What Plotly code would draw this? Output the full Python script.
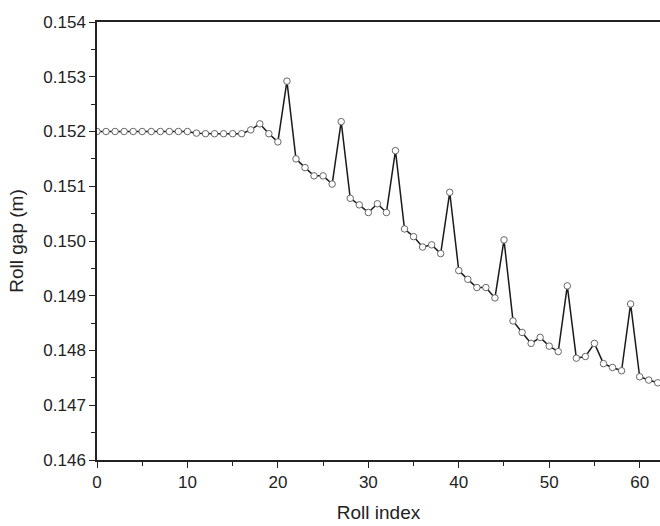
import plotly.graph_objects as go

roll_index = list(range(63))
roll_gap = [
    0.15200, 0.15200, 0.15200, 0.15200, 0.15200, 0.15200, 0.15200, 0.15200, 0.15200, 0.15200,
    0.15200, 0.15197, 0.15196, 0.15196, 0.15196, 0.15196, 0.15196, 0.15203, 0.15214, 0.15196,
    0.15181, 0.15292, 0.15150, 0.15134, 0.15119, 0.15119, 0.15104, 0.15218, 0.15078, 0.15066,
    0.15052, 0.15068, 0.15052, 0.15165, 0.15022, 0.15008, 0.14989, 0.14993, 0.14977, 0.15089,
    0.14946, 0.14930, 0.14915, 0.14915, 0.14896, 0.15002, 0.14854, 0.14833, 0.14813, 0.14824,
    0.14808, 0.14798, 0.14918, 0.14786, 0.14789, 0.14813, 0.14776, 0.14769, 0.14763, 0.14885,
    0.14752, 0.14746, 0.14741,
]

x_ticks = [0, 10, 20, 30, 40, 50, 60]
y_ticks = [0.146, 0.147, 0.148, 0.149, 0.150, 0.151, 0.152, 0.153, 0.154]

fig = go.Figure()
fig.add_trace(go.Scatter(
    x=roll_index, y=roll_gap, mode="lines+markers",
    line=dict(color="#1a1a1a", width=1.5),
    marker=dict(symbol="circle", size=6.5, color="white",
                line=dict(color="#666666", width=1)),
    showlegend=False,
))

font_family = "Liberation Sans, Arial, sans-serif"
fig.update_layout(
    width=660, height=526,
    margin=dict(l=97, r=0, t=22, b=66),
    plot_bgcolor="white", paper_bgcolor="white",
    font=dict(family=font_family, size=17, color="#222222"),
    xaxis=dict(
        range=[0, 62.25], tickvals=x_ticks, ticktext=[str(v) for v in x_ticks],
        automargin=False,
        showgrid=False, zeroline=False,
        showline=True, linecolor="#222222", linewidth=1.5, mirror=True,
        ticks="outside", ticklen=6, tickwidth=1.2, tickcolor="#222222",
        minor=dict(dtick=5, tick0=0, ticks="outside", ticklen=4, tickwidth=1, tickcolor="#222222", showgrid=False),
        title=dict(text="Roll index", font=dict(size=19)),
    ),
    yaxis=dict(
        range=[0.146, 0.154], tickvals=y_ticks, ticktext=[f"{v:.3f}" for v in y_ticks],
        automargin=False,
        showgrid=False, zeroline=False,
        showline=True, linecolor="#222222", linewidth=1.5,
        ticks="outside", ticklen=6, tickwidth=1.2, tickcolor="#222222",
        minor=dict(dtick=0.0005, tick0=0.146, ticks="outside", ticklen=4, tickwidth=1, tickcolor="#222222", showgrid=False),
        title=dict(text="Roll gap (m)", font=dict(size=19)),
    ),
)

fig.write_html(
    "out.html",
    config={"displayModeBar": False},
    post_script="document.body.style.margin='0';document.body.style.overflow='hidden';",
)
